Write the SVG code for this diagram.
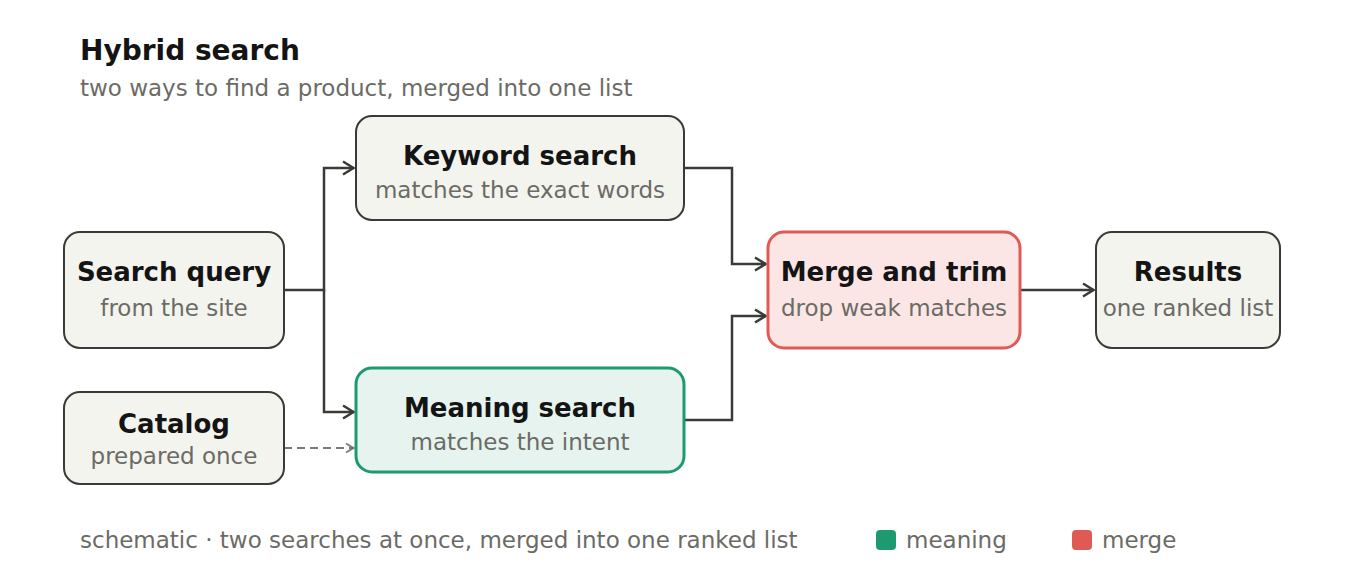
<svg xmlns="http://www.w3.org/2000/svg" width="1360" height="584" viewBox="0 0 1360 584">
<style>
  text { font-family: "DejaVu Sans", sans-serif; }
  .h1 { font-size: 28px; font-weight: bold; fill: #141414; }
  .sub { font-size: 23px; fill: #6b6b66; }
  .t { font-size: 26px; font-weight: bold; fill: #141414; text-anchor: middle; dominant-baseline: central; }
  .s { font-size: 23px; fill: #6b6b66; text-anchor: middle; dominant-baseline: central; }
  .box { fill: #f4f4ee; stroke: #3a3a37; stroke-width: 2; }
  .green { fill: #e6f3ee; stroke: #1d9a70; stroke-width: 3; }
  .red { fill: #fbe6e5; stroke: #e05a55; stroke-width: 3; }
  .edge { fill: none; stroke: #3a3a37; stroke-width: 2.5; }
  .dash { fill: none; stroke: #7a7a74; stroke-width: 2; stroke-dasharray: 8 5; }
</style>
<defs>
  <marker id="arr" viewBox="0 0 14 16" refX="12.5" refY="8" markerWidth="14" markerHeight="16" markerUnits="userSpaceOnUse" orient="auto">
    <path d="M1.5,1.5 L12,8 L1.5,14.5" fill="none" stroke="#3a3a37" stroke-width="2.5"/>
  </marker>
  <marker id="arrd" viewBox="0 0 10 12" refX="9" refY="6" markerWidth="10" markerHeight="12" markerUnits="userSpaceOnUse" orient="auto">
    <path d="M1,1.5 L8.5,6 L1,10.5" fill="none" stroke="#7a7a74" stroke-width="1.8"/>
  </marker>
</defs>
<rect width="1360" height="584" fill="#ffffff"/>
<text class="h1" x="80" y="60">Hybrid search</text>
<text class="sub" x="80" y="96">two ways to find a product, merged into one list</text>

<g id="connectors">
  <path class="edge" d="M284,290 H324 V168 H354" marker-end="url(#arr)"/>
  <path class="edge" d="M324,290 V412 H354" marker-end="url(#arr)"/>
  <path class="dash" d="M284,448 H354" marker-end="url(#arrd)"/>
  <path class="edge" d="M684,168 H732 V264 H766" marker-end="url(#arr)"/>
  <path class="edge" d="M684,420 H732 V316 H766" marker-end="url(#arr)"/>
  <path class="edge" d="M1020,290 H1094" marker-end="url(#arr)"/>
</g>

<g id="search-query">
  <rect class="box" x="64" y="232" width="220" height="116" rx="16"/>
  <text class="t" x="174" y="272">Search query</text>
  <text class="s" x="174" y="308">from the site</text>
</g>
<g id="catalog">
  <rect class="box" x="64" y="392" width="220" height="92" rx="16"/>
  <text class="t" x="174" y="424">Catalog</text>
  <text class="s" x="174" y="456">prepared once</text>
</g>
<g id="keyword-search">
  <rect class="box" x="356" y="116" width="328" height="104" rx="16"/>
  <text class="t" x="520" y="156">Keyword search</text>
  <text class="s" x="520" y="190">matches the exact words</text>
</g>
<g id="meaning-search">
  <rect class="green" x="356" y="368" width="328" height="104" rx="16"/>
  <text class="t" x="520" y="408">Meaning search</text>
  <text class="s" x="520" y="442">matches the intent</text>
</g>
<g id="merge-and-trim">
  <rect class="red" x="768" y="232" width="252" height="116" rx="16"/>
  <text class="t" x="894" y="272">Merge and trim</text>
  <text class="s" x="894" y="308">drop weak matches</text>
</g>
<g id="results">
  <rect class="box" x="1096" y="232" width="184" height="116" rx="16"/>
  <text class="t" x="1188" y="272">Results</text>
  <text class="s" x="1188" y="308">one ranked list</text>
</g>

<g id="legend">
  <text class="sub" x="80" y="548">schematic · two searches at once, merged into one ranked list</text>
  <rect x="876" y="530" width="20" height="20" rx="4" fill="#1d9a70"/>
  <text class="sub" x="906" y="548">meaning</text>
  <rect x="1072" y="530" width="20" height="20" rx="4" fill="#e05a55"/>
  <text class="sub" x="1102" y="548">merge</text>
</g>
</svg>
